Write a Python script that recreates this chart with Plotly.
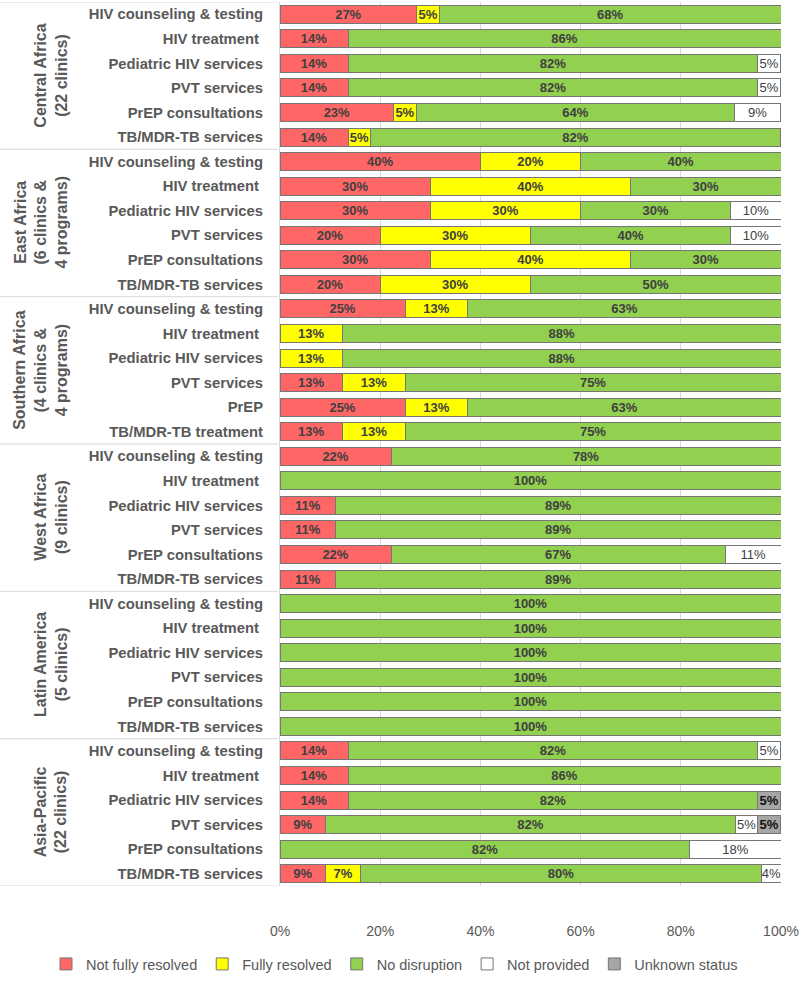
import plotly.graph_objects as go

services = [
    "HIV counseling & testing", "HIV treatment\u00a0", "Pediatric HIV services",
    "PVT services", "PrEP consultations", "TB/MDR-TB services",
    "HIV counseling & testing", "HIV treatment\u00a0", "Pediatric HIV services",
    "PVT services", "PrEP consultations", "TB/MDR-TB services",
    "HIV counseling & testing", "HIV treatment\u00a0", "Pediatric HIV services",
    "PVT services", "PrEP", "TB/MDR-TB treatment",
    "HIV counseling & testing", "HIV treatment\u00a0", "Pediatric HIV services",
    "PVT services", "PrEP consultations", "TB/MDR-TB services",
    "HIV counseling & testing", "HIV treatment\u00a0", "Pediatric HIV services",
    "PVT services", "PrEP consultations", "TB/MDR-TB services",
    "HIV counseling & testing", "HIV treatment\u00a0", "Pediatric HIV services",
    "PVT services", "PrEP consultations", "TB/MDR-TB services",
]

regions = [
    "Central Africa<br>(22 clinics)",
    "East Africa<br>(6 clinics &<br>4 programs)",
    "Southern Africa<br>(4 clinics &<br>4 programs)",
    "West Africa<br>(9 clinics)",
    "Latin America<br>(5 clinics)",
    "Asia-Pacific<br>(22 clinics)",
]

N = None
not_fully_resolved = [
    27.3, 13.6, 13.6, 13.6, 22.7, 13.6,
    40, 30, 30, 20, 30, 20,
    25, N, N, 12.5, 25, 12.5,
    22.2, N, 11.1, 11.1, 22.2, 11.1,
    N, N, N, N, N, N,
    13.6, 13.6, 13.6, 9.1, N, 9.1,
]
fully_resolved = [
    4.5, N, N, N, 4.5, 4.5,
    20, 40, 30, 30, 40, 30,
    12.5, 12.5, 12.5, 12.5, 12.5, 12.5,
    N, N, N, N, N, N,
    N, N, N, N, N, N,
    N, N, N, N, N, 7,
]
no_disruption = [
    68.2, 86.4, 81.8, 81.8, 63.6, 81.8,
    40, 30, 30, 40, 30, 50,
    62.5, 87.5, 87.5, 75, 62.5, 75,
    77.8, 100, 88.9, 88.9, 66.7, 88.9,
    100, 100, 100, 100, 100, 100,
    81.8, 86.4, 81.8, 81.8, 81.8, 80,
]
not_provided = [
    N, N, 4.5, 4.5, 9.1, N,
    N, N, 10, 10, N, N,
    N, N, N, N, N, N,
    N, N, N, N, 11.1, N,
    N, N, N, N, N, N,
    4.5, N, N, 4.5, 18.2, 4,
]
unknown_status = [
    N, N, N, N, N, N,
    N, N, N, N, N, N,
    N, N, N, N, N, N,
    N, N, N, N, N, N,
    N, N, N, N, N, N,
    N, N, 4.5, 4.5, N, N,
]

x_ticks = [0, 20, 40, 60, 80, 100]
x_ticklabels = ["0%", "20%", "40%", "60%", "80%", "100%"]

FONT = "Liberation Sans"
series = [
    ("Not fully resolved", not_fully_resolved, "#FF6666", dict(color="#404040", size=13, family=FONT, weight="bold")),
    ("Fully resolved", fully_resolved, "#FFFF00", dict(color="#404040", size=13, family=FONT, weight="bold")),
    ("No disruption", no_disruption, "#92D050", dict(color="#404040", size=13, family=FONT, weight="bold")),
    ("Not provided", not_provided, "#FFFFFF", dict(color="#404040", size=13, family=FONT)),
    ("Unknown status", unknown_status, "#A6A6A6", dict(color="#111111", size=13, family=FONT, weight="bold")),
]

rows = list(range(len(services)))
fig = go.Figure()
for name, vals, color, tf in series:
    fig.add_trace(go.Bar(
        y=rows, x=vals, name=name, orientation="h",
        marker=dict(color=color, line=dict(color="#767676", width=1)),
        texttemplate="%{x:.0f}%", textposition="inside", insidetextanchor="middle",
        constraintext="none", textangle=0,
        textfont=tf, hoverinfo="skip",
    ))

left_px = 280
bottom_px = 95
plot_w = 800 - left_px - 19
plot_h = 981 - 2 - bottom_px
px0 = -left_px / plot_w

for g, label in enumerate(regions):
    fig.add_annotation(
        x=(72 - left_px) / plot_w, xref="paper", y=g * 6 + 2.5, yref="y",
        text=label, textangle=-90, showarrow=False,
        font=dict(family=FONT, size=16, color="#595959", weight="bold"),
        xanchor="right", yanchor="middle",
    )

for b in range(7):
    fig.add_shape(type="line", xref="paper", yref="y",
                  x0=px0, x1=-0.004, y0=b * 6 - 0.5, y1=b * 6 - 0.5,
                  line=dict(color="#D9D9D9", width=1))

fig.update_layout(
    width=800, height=981,
    barmode="stack", bargap=0.27,
    margin=dict(l=left_px, r=19, t=2, b=bottom_px, autoexpand=False),
    plot_bgcolor="white", paper_bgcolor="white",
    font=dict(family=FONT, color="#595959"),
    showlegend=True,
    legend=dict(orientation="h", xref="paper", x=(46 - left_px) / plot_w, xanchor="left",
                yref="paper", y=-(980 - 886) / plot_h, yanchor="bottom",
                font=dict(size=14.5, color="#595959"), traceorder="normal",
                itemwidth=30, bgcolor="rgba(0,0,0,0)"),
    xaxis=dict(range=[0, 100], tickvals=x_ticks, ticktext=x_ticklabels,
               showgrid=True, gridcolor="#D9D9D9", gridwidth=1, zeroline=False,
               ticklabelstandoff=35, tickfont=dict(size=14, color="#595959"),
               showline=False, fixedrange=True, automargin=False),
    yaxis=dict(tickvals=rows, ticktext=services, range=[35.5, -0.5],
               showgrid=False, zeroline=False, showline=True, linecolor="#D9D9D9",
               ticklabelstandoff=13, automargin=False,
               tickfont=dict(size=14.8, color="#595959", weight="bold")),
)

fig.write_html("out.html")
